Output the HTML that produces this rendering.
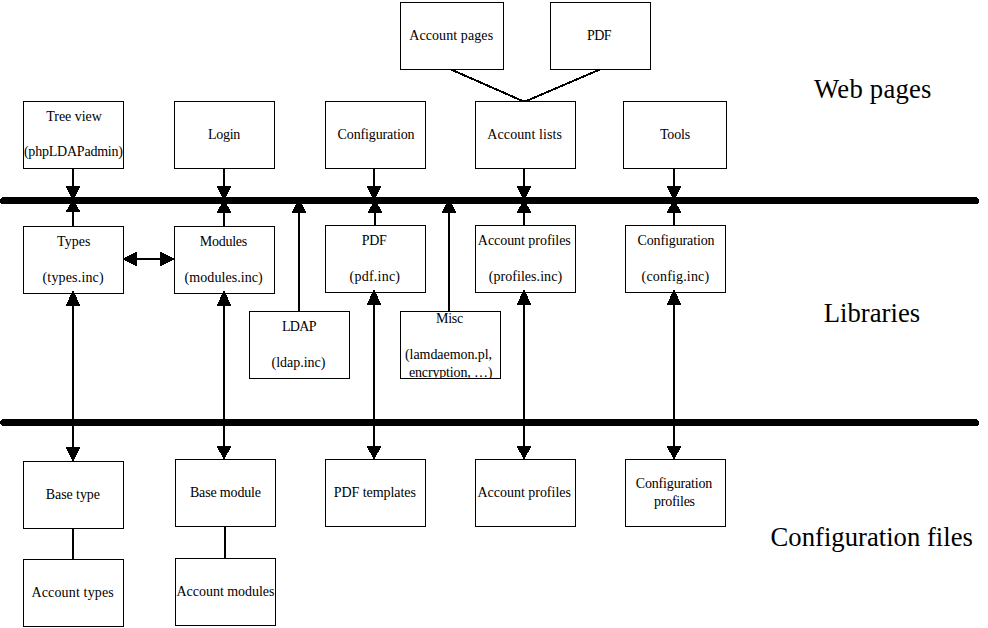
<!DOCTYPE html>
<html><head><meta charset="utf-8"><title>LAM architecture</title>
<style>html,body{margin:0;padding:0;background:#fff;width:988px;height:628px;overflow:hidden}
svg polygon,svg line{shape-rendering:crispEdges}
svg text{font-family:"Liberation Serif",serif;fill:#000}</style></head>
<body>
<svg width="988" height="628" viewBox="0 0 988 628" style="display:block">
<defs><clipPath id="c0"><rect x="401" y="3" width="102" height="66"/></clipPath><clipPath id="c1"><rect x="551" y="3" width="99" height="66"/></clipPath><clipPath id="c2"><rect x="24" y="102" width="99" height="66"/></clipPath><clipPath id="c3"><rect x="175" y="102" width="99" height="66"/></clipPath><clipPath id="c4"><rect x="326" y="102" width="99" height="66"/></clipPath><clipPath id="c5"><rect x="476" y="102" width="99" height="66"/></clipPath><clipPath id="c6"><rect x="624" y="102" width="102" height="66"/></clipPath><clipPath id="c7"><rect x="24" y="227" width="99" height="66"/></clipPath><clipPath id="c8"><rect x="175" y="227" width="99" height="66"/></clipPath><clipPath id="c9"><rect x="326" y="226" width="99" height="66"/></clipPath><clipPath id="c10"><rect x="476" y="226" width="99" height="66"/></clipPath><clipPath id="c11"><rect x="626" y="226" width="99" height="66"/></clipPath><clipPath id="c12"><rect x="250" y="312" width="99" height="66"/></clipPath><clipPath id="c13"><rect x="401" y="312" width="99" height="66"/></clipPath><clipPath id="c14"><rect x="24" y="462" width="99" height="66"/></clipPath><clipPath id="c15"><rect x="176" y="460" width="99" height="66"/></clipPath><clipPath id="c16"><rect x="326" y="460" width="99" height="66"/></clipPath><clipPath id="c17"><rect x="476" y="460" width="99" height="66"/></clipPath><clipPath id="c18"><rect x="626" y="460" width="99" height="66"/></clipPath><clipPath id="c19"><rect x="24" y="560" width="99" height="66"/></clipPath><clipPath id="c20"><rect x="176" y="559" width="99" height="66"/></clipPath></defs>
<rect width="988" height="628" fill="#fff"/>
<rect x="400.5" y="2.5" width="103" height="67" fill="#fff" stroke="#000" stroke-width="1"/>
<rect x="550.5" y="2.5" width="100" height="67" fill="#fff" stroke="#000" stroke-width="1"/>
<rect x="23.5" y="101.5" width="100" height="67" fill="#fff" stroke="#000" stroke-width="1"/>
<rect x="174.5" y="101.5" width="100" height="67" fill="#fff" stroke="#000" stroke-width="1"/>
<rect x="325.5" y="101.5" width="100" height="67" fill="#fff" stroke="#000" stroke-width="1"/>
<rect x="475.5" y="101.5" width="100" height="67" fill="#fff" stroke="#000" stroke-width="1"/>
<rect x="623.5" y="101.5" width="103" height="67" fill="#fff" stroke="#000" stroke-width="1"/>
<rect x="23.5" y="226.5" width="100" height="67" fill="#fff" stroke="#000" stroke-width="1"/>
<rect x="174.5" y="226.5" width="100" height="67" fill="#fff" stroke="#000" stroke-width="1"/>
<rect x="325.5" y="225.5" width="100" height="67" fill="#fff" stroke="#000" stroke-width="1"/>
<rect x="475.5" y="225.5" width="100" height="67" fill="#fff" stroke="#000" stroke-width="1"/>
<rect x="625.5" y="225.5" width="100" height="67" fill="#fff" stroke="#000" stroke-width="1"/>
<rect x="249.5" y="311.5" width="100" height="67" fill="#fff" stroke="#000" stroke-width="1"/>
<rect x="400.5" y="311.5" width="100" height="67" fill="#fff" stroke="#000" stroke-width="1"/>
<rect x="23.5" y="461.5" width="100" height="67" fill="#fff" stroke="#000" stroke-width="1"/>
<rect x="175.5" y="459.5" width="100" height="67" fill="#fff" stroke="#000" stroke-width="1"/>
<rect x="325.5" y="459.5" width="100" height="67" fill="#fff" stroke="#000" stroke-width="1"/>
<rect x="475.5" y="459.5" width="100" height="67" fill="#fff" stroke="#000" stroke-width="1"/>
<rect x="625.5" y="459.5" width="100" height="67" fill="#fff" stroke="#000" stroke-width="1"/>
<rect x="23.5" y="559.5" width="100" height="67" fill="#fff" stroke="#000" stroke-width="1"/>
<rect x="175.5" y="558.5" width="100" height="67" fill="#fff" stroke="#000" stroke-width="1"/>
<g clip-path="url(#c0)"><text x="409.20" y="40" font-size="14" textLength="83.91" lengthAdjust="spacing">Account pages</text></g>
<g clip-path="url(#c1)"><text x="586.90" y="40" font-size="14" textLength="24.69" lengthAdjust="spacing">PDF</text></g>
<g clip-path="url(#c2)"><text x="46.20" y="121" font-size="14" textLength="55.67" lengthAdjust="spacing">Tree view</text></g>
<g clip-path="url(#c2)"><text x="23.90" y="156" font-size="14" textLength="99.09" lengthAdjust="spacing">(phpLDAPadmin)</text></g>
<g clip-path="url(#c3)"><text x="208.00" y="139" font-size="14" textLength="32.25" lengthAdjust="spacing">Login</text></g>
<g clip-path="url(#c4)"><text x="337.60" y="139" font-size="14" textLength="76.95" lengthAdjust="spacing">Configuration</text></g>
<g clip-path="url(#c5)"><text x="487.30" y="139" font-size="14" textLength="74.60" lengthAdjust="spacing">Account lists</text></g>
<g clip-path="url(#c6)"><text x="659.90" y="139" font-size="14" textLength="30.42" lengthAdjust="spacing">Tools</text></g>
<g clip-path="url(#c7)"><text x="57.10" y="246" font-size="14" textLength="33.45" lengthAdjust="spacing">Types</text></g>
<g clip-path="url(#c7)"><text x="42.50" y="282" font-size="14" textLength="61.18" lengthAdjust="spacing">(types.inc)</text></g>
<g clip-path="url(#c8)"><text x="199.80" y="246" font-size="14" textLength="47.40" lengthAdjust="spacing">Modules</text></g>
<g clip-path="url(#c8)"><text x="184.60" y="282" font-size="14" textLength="78.08" lengthAdjust="spacing">(modules.inc)</text></g>
<g clip-path="url(#c9)"><text x="361.80" y="245" font-size="14" textLength="24.89" lengthAdjust="spacing">PDF</text></g>
<g clip-path="url(#c9)"><text x="349.60" y="280.5" font-size="14" textLength="50.39" lengthAdjust="spacing">(pdf.inc)</text></g>
<g clip-path="url(#c10)"><text x="477.80" y="245" font-size="14" textLength="93.00" lengthAdjust="spacing">Account profiles</text></g>
<g clip-path="url(#c10)"><text x="488.70" y="280.5" font-size="14" textLength="73.40" lengthAdjust="spacing">(profiles.inc)</text></g>
<g clip-path="url(#c11)"><text x="637.50" y="245" font-size="14" textLength="77.05" lengthAdjust="spacing">Configuration</text></g>
<g clip-path="url(#c11)"><text x="641.60" y="280.5" font-size="14" textLength="67.50" lengthAdjust="spacing">(config.inc)</text></g>
<g clip-path="url(#c12)"><text x="281.90" y="331" font-size="14" textLength="34.56" lengthAdjust="spacing">LDAP</text></g>
<g clip-path="url(#c12)"><text x="271.60" y="366.5" font-size="14" textLength="53.73" lengthAdjust="spacing">(ldap.inc)</text></g>
<g clip-path="url(#c13)"><text x="436.00" y="322.8" font-size="14" textLength="27.30" lengthAdjust="spacing">Misc</text></g>
<g clip-path="url(#c13)"><text x="405.00" y="358.5" font-size="14" textLength="87.07" lengthAdjust="spacing">(lamdaemon.pl,</text></g>
<g clip-path="url(#c13)"><text x="408.90" y="377" font-size="14" textLength="83.63" lengthAdjust="spacing">encryption, …)</text></g>
<g clip-path="url(#c14)"><text x="45.80" y="498.8" font-size="14" textLength="54.13" lengthAdjust="spacing">Base type</text></g>
<g clip-path="url(#c15)"><text x="189.90" y="496.8" font-size="14" textLength="71.12" lengthAdjust="spacing">Base module</text></g>
<g clip-path="url(#c16)"><text x="333.70" y="496.8" font-size="14" textLength="82.24" lengthAdjust="spacing">PDF templates</text></g>
<g clip-path="url(#c17)"><text x="477.50" y="496.8" font-size="14" textLength="93.40" lengthAdjust="spacing">Account profiles</text></g>
<g clip-path="url(#c18)"><text x="635.70" y="487.9" font-size="14" textLength="76.65" lengthAdjust="spacing">Configuration</text></g>
<g clip-path="url(#c18)"><text x="654.00" y="506" font-size="14" textLength="41.07" lengthAdjust="spacing">profiles</text></g>
<g clip-path="url(#c19)"><text x="31.40" y="596.7" font-size="14" textLength="82.38" lengthAdjust="spacing">Account types</text></g>
<g clip-path="url(#c20)"><text x="176.50" y="595.8" font-size="14" textLength="97.98" lengthAdjust="spacing">Account modules</text></g>
<text x="814.10" y="97.8" font-size="26.67" textLength="117.35" lengthAdjust="spacing">Web pages</text>
<text x="823.70" y="322" font-size="26.67" textLength="96.42" lengthAdjust="spacing">Libraries</text>
<text x="770.50" y="545.7" font-size="26.67" textLength="202.41" lengthAdjust="spacing">Configuration files</text>
<line x1="451" y1="69.5" x2="521.5" y2="100.5" stroke="#000" stroke-width="2"/>
<line x1="600" y1="69.5" x2="527.5" y2="100.5" stroke="#000" stroke-width="2"/>
<rect x="521" y="100" width="7" height="1" fill="#000"/>
<line x1="3.5" y1="200.5" x2="975.5" y2="200.5" stroke="#000" stroke-width="7" stroke-linecap="round"/>
<line x1="3.7" y1="422.5" x2="975.5" y2="422.5" stroke="#000" stroke-width="7" stroke-linecap="round"/>
<rect x="72" y="169" width="2" height="29" fill="#000"/>
<polygon points="65.5,186 80.5,186 73,201" fill="#000"/>
<rect x="72" y="204" width="2" height="22" fill="#000"/>
<polygon points="73,199 80.5,212 65.5,212" fill="#000"/>
<rect x="223" y="169" width="2" height="29" fill="#000"/>
<polygon points="216.5,186 231.5,186 224,201" fill="#000"/>
<rect x="223" y="204" width="2" height="22" fill="#000"/>
<polygon points="224,199 231.5,213 216.5,213" fill="#000"/>
<rect x="373" y="169" width="2" height="29" fill="#000"/>
<polygon points="366.5,186 381.5,186 374,201" fill="#000"/>
<rect x="374" y="204" width="2" height="21" fill="#000"/>
<polygon points="375,199 382.5,213 367.5,213" fill="#000"/>
<rect x="523" y="169" width="2" height="29" fill="#000"/>
<polygon points="516.5,186 531.5,186 524,201" fill="#000"/>
<rect x="523" y="204" width="2" height="21" fill="#000"/>
<polygon points="524,199 531.5,213 516.5,213" fill="#000"/>
<rect x="673" y="169" width="2" height="29" fill="#000"/>
<polygon points="666.5,186 681.5,186 674,201" fill="#000"/>
<rect x="673" y="204" width="2" height="21" fill="#000"/>
<polygon points="674,199 681.5,213 666.5,213" fill="#000"/>
<rect x="298" y="204" width="2" height="108" fill="#000"/>
<polygon points="299,198 306.5,213 291.5,213" fill="#000"/>
<rect x="448" y="204" width="2" height="108" fill="#000"/>
<polygon points="449,198 456.5,213 441.5,213" fill="#000"/>
<rect x="72" y="293" width="2" height="169" fill="#000"/>
<polygon points="73,290 80.5,306 65.5,306" fill="#000"/>
<polygon points="65.5,447 80.5,447 73,462" fill="#000"/>
<rect x="223" y="293" width="2" height="167" fill="#000"/>
<polygon points="224,290 231.5,306 216.5,306" fill="#000"/>
<polygon points="216.5,446 231.5,446 224,460" fill="#000"/>
<rect x="373" y="292" width="2" height="168" fill="#000"/>
<polygon points="374,289 381.5,305 366.5,305" fill="#000"/>
<polygon points="366.5,446 381.5,446 374,460" fill="#000"/>
<rect x="523" y="292" width="2" height="168" fill="#000"/>
<polygon points="524,289 531.5,305 516.5,305" fill="#000"/>
<polygon points="516.5,446 531.5,446 524,460" fill="#000"/>
<rect x="673" y="292" width="2" height="168" fill="#000"/>
<polygon points="674,289 681.5,305 666.5,305" fill="#000"/>
<polygon points="666.5,446 681.5,446 674,460" fill="#000"/>
<rect x="137" y="258" width="24" height="2" fill="#000"/>
<polygon points="122,259 137,251.5 137,266.5" fill="#000"/>
<polygon points="175,259 160,251.5 160,266.5" fill="#000"/>
<rect x="72" y="529" width="2" height="30" fill="#000"/>
<rect x="224" y="527" width="2" height="31" fill="#000"/>
</svg>
</body></html>
